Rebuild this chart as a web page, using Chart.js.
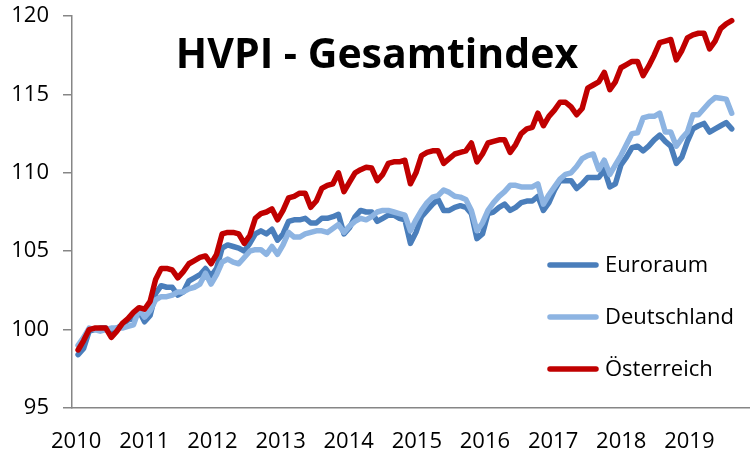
<!DOCTYPE html>
<html>
<head>
<meta charset="utf-8">
<script src="https://cdn.jsdelivr.net/npm/chart.js@4.4.1/dist/chart.umd.min.js"></script>
<style>
html,body{margin:0;padding:0;background:#fff;}
canvas{display:block;}
</style>
</head>
<body>
<canvas id="c" width="750" height="460"></canvas>
<script>
// ---- data (monthly, Jan 2010 - Nov 2019, index 2010 = 100) ----
const years = ['2010','2011','2012','2013','2014','2015','2016','2017','2018','2019'];
const seriesNames = ['Euroraum', 'Deutschland', 'Österreich'];
const yTicks = [95, 100, 105, 110, 115, 120];
const titleText = 'HVPI - Gesamtindex';

const euroraum = [
  98.4, 98.8, 99.9, 100.0, 100.1, 100.1, 99.9, 100.1, 100.3, 100.6, 100.7, 101.2,
  100.5, 100.9, 102.3, 102.8, 102.7, 102.7, 102.2, 102.4, 103.1, 103.3, 103.5, 103.9,
  103.4, 103.9, 105.2, 105.4, 105.3, 105.2, 105.0, 105.5, 106.1, 106.3, 106.1, 106.4,
  105.7, 106.1, 106.9, 107.0, 107.0, 107.1, 106.8, 106.8, 107.1, 107.1, 107.2, 107.35,
  106.1, 106.5, 107.2, 107.6, 107.5, 107.5, 106.9, 107.1, 107.3, 107.3, 107.1, 107.0,
  105.5, 106.2, 107.2, 107.6, 108.0, 108.3, 107.6, 107.6, 107.8, 107.9, 107.8, 107.4,
  105.8, 106.1, 107.4, 107.5, 107.8, 108.0, 107.6, 107.8, 108.1, 108.2, 108.2, 108.5,
  107.6, 108.1, 108.9, 109.5, 109.5, 109.5, 109.0, 109.3, 109.7, 109.7, 109.7, 110.2,
  109.1, 109.3, 110.5, 111.0, 111.6, 111.7, 111.4, 111.7, 112.1, 112.4, 112.0, 111.7,
  110.6, 111.0, 112.0, 112.8, 113.0, 113.15, 112.6, 112.8, 113.0, 113.2, 112.8
];
const deutschland = [
  99.0, 99.5, 100.1, 100.0, 99.9, 100.0, 100.1, 100.1, 100.1, 100.2, 100.3, 101.3,
  100.8, 101.2, 101.9, 102.1, 102.1, 102.2, 102.4, 102.4, 102.6, 102.7, 102.9, 103.6,
  102.9, 103.5, 104.3, 104.5, 104.3, 104.2, 104.6, 105.0, 105.1, 105.1, 104.8, 105.3,
  104.8, 105.4, 106.2, 105.9, 105.9, 106.1, 106.2, 106.3, 106.3, 106.2, 106.45, 106.7,
  106.2, 106.6, 106.9, 107.1, 107.0, 107.2, 107.5, 107.6, 107.6, 107.5, 107.4, 107.3,
  106.3, 107.0, 107.6, 108.1, 108.45, 108.55, 108.9, 108.75, 108.5, 108.45, 108.3, 107.6,
  106.3, 106.8, 107.6, 108.1, 108.5, 108.8, 109.2, 109.2, 109.1, 109.1, 109.1, 109.3,
  108.0, 108.6, 109.1, 109.6, 109.9, 110.0, 110.4, 110.9, 111.1, 111.2, 110.2, 110.8,
  109.9, 110.5, 111.1, 111.8, 112.5, 112.55, 113.5, 113.6, 113.6, 113.8, 112.6, 112.6,
  111.7, 112.2, 112.6, 113.7, 113.7, 114.1, 114.5, 114.8, 114.75, 114.7, 113.8
];
const oesterreich = [
  98.7, 99.3, 100.0, 100.1, 100.1, 100.1, 99.5, 99.9, 100.4, 100.7, 101.1, 101.4,
  101.3, 101.8, 103.2, 103.9, 103.9, 103.8, 103.3, 103.7, 104.2, 104.4, 104.6, 104.7,
  104.2, 104.8, 106.1, 106.2, 106.2, 106.1, 105.5, 106.0, 107.1, 107.4, 107.5, 107.7,
  107.0, 107.6, 108.4, 108.5, 108.7, 108.7, 107.8, 108.2, 109.0, 109.2, 109.3, 110.0,
  108.8, 109.4, 110.0, 110.2, 110.35, 110.3, 109.5, 109.9, 110.6, 110.7, 110.7, 110.8,
  109.3, 110.0, 111.1, 111.3, 111.4, 111.4, 110.6, 110.9, 111.2, 111.3, 111.4, 111.9,
  110.7, 111.2, 111.9, 112.0, 112.1, 112.1, 111.3, 111.8, 112.5, 112.8, 112.9, 113.8,
  113.0, 113.6, 114.0, 114.5, 114.5, 114.2, 113.7, 114.1, 115.4, 115.6, 115.8, 116.4,
  115.3, 115.8, 116.7, 116.9, 117.1, 117.1, 116.2, 116.8, 117.5, 118.3, 118.4, 118.5,
  117.2, 117.8, 118.6, 118.8, 118.9, 118.9, 117.9, 118.4, 119.2, 119.5, 119.7
];

// ---- styling ----
const colors = ['#4A7EBB', '#8DB4E2', '#C00000'];
const FONT = "'Open Sans', sans-serif";
const AXIS_GRAY = '#868686';

const toPoints = arr => arr.map((v, i) => ({ x: i, y: v }));

const overlay = {
  id: 'overlay',
  afterDatasetsDraw(chart) {
    const ctx = chart.ctx;
    ctx.save();
    // title
    ctx.fillStyle = '#000';
    ctx.font = "bold 41px " + FONT;
    ctx.textAlign = 'center';
    ctx.textBaseline = 'alphabetic';
    ctx.fillText(titleText, 377, 68);
    // legend (inside plot, bottom right)
    ctx.font = "22px " + FONT;
    ctx.textAlign = 'left';
    ctx.textBaseline = 'middle';
    seriesNames.forEach((name, k) => {
      const y = 265 + k * 52;
      ctx.strokeStyle = colors[k];
      ctx.lineWidth = 5.5;
      ctx.lineCap = 'round';
      ctx.beginPath();
      ctx.moveTo(550, y);
      ctx.lineTo(596, y);
      ctx.stroke();
      ctx.fillStyle = '#000';
      ctx.fillText(name, 605, y + 1);
    });
    ctx.restore();
  }
};

const seriesData = [euroraum, deutschland, oesterreich];

new Chart(document.getElementById('c'), {
  type: 'line',
  data: {
    datasets: seriesData.map((arr, k) => ({
      label: seriesNames[k],
      data: toPoints(arr),
      borderColor: colors[k],
      backgroundColor: colors[k],
      borderWidth: 5.5,
      pointRadius: 0,
      tension: 0,
      borderJoinStyle: 'round',
      borderCapStyle: 'round',
      fill: false,
      order: 3 - k
    }))
  },
  options: {
    responsive: false,
    animation: false,
    devicePixelRatio: 1,
    events: [],
    layout: { padding: { top: 16, left: 0, right: 0, bottom: 0 } },
    plugins: { legend: { display: false }, title: { display: false }, tooltip: { enabled: false } },
    scales: {
      x: {
        type: 'linear',
        min: -1.1,
        max: 121.3,
        afterBuildTicks: s => { s.ticks = years.map((y, k) => ({ value: k * 12.3 - 0.35 })); },
        afterFit: s => { s.height = 52; s.paddingLeft = 0; s.paddingRight = 0; },
        grid: { display: false, drawTicks: false },
        border: { display: true, color: AXIS_GRAY, width: 1.5 },
        ticks: {
          padding: 21, color: '#000', font: { family: FONT, size: 22 },
          maxRotation: 0, autoSkip: false,
          callback: (v, i) => years[i]
        }
      },
      y: {
        type: 'linear',
        min: 95,
        max: 120,
        afterBuildTicks: s => { s.ticks = yTicks.map(v => ({ value: v })); },
        afterFit: s => { s.width = 72; s.paddingTop = 0; s.paddingBottom = 0; },
        grid: { display: true, drawOnChartArea: false, drawTicks: true, tickLength: 9, color: AXIS_GRAY, lineWidth: 1.5 },
        border: { display: true, color: AXIS_GRAY, width: 1.5 },
        ticks: { padding: 14, color: '#000', font: { family: FONT, size: 22 } }
      }
    }
  },
  plugins: [overlay]
});
</script>
</body>
</html>
